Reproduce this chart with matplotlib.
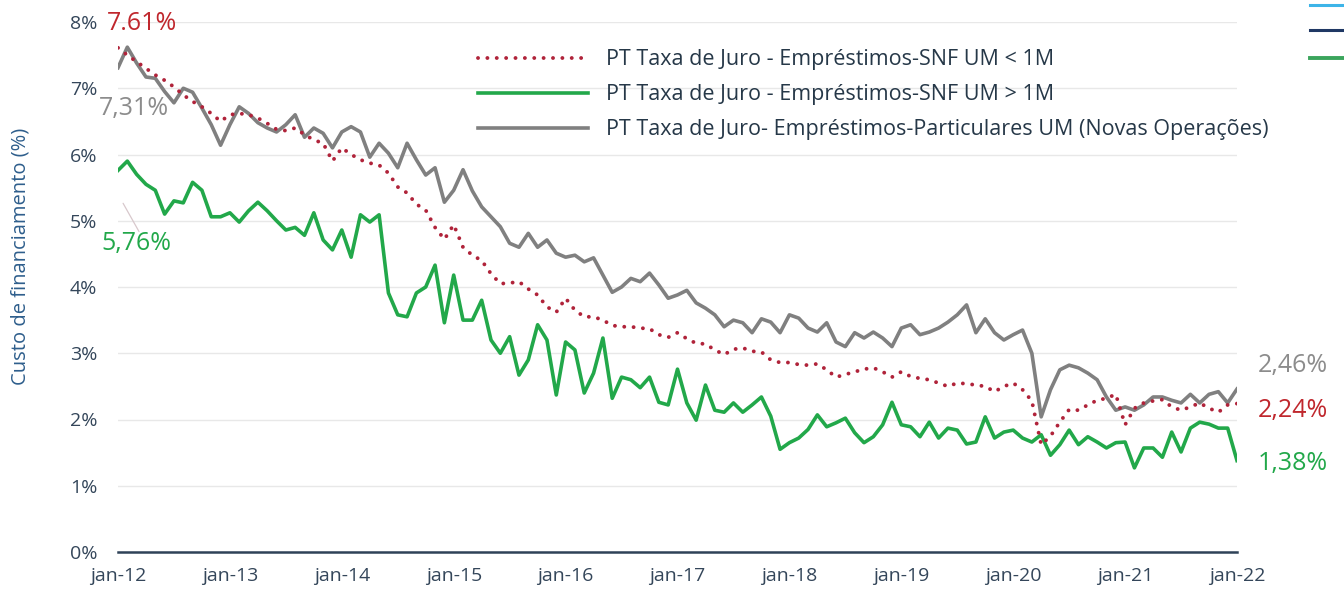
import matplotlib
matplotlib.use("Agg")
import matplotlib.pyplot as plt
from matplotlib.lines import Line2D
import numpy as np

plt.rcParams['font.family'] = ['Open Sans', 'DejaVu Sans']

# taxas mensais jan-12 .. jan-22 (%)
snf_menor_1m = [
    7.61, 7.50, 7.40, 7.30, 7.20, 7.12, 7.02, 6.90, 6.80, 6.72, 6.62, 6.50,
    6.60, 6.62, 6.60, 6.55, 6.47, 6.38, 6.36, 6.40, 6.30, 6.22, 6.17, 5.90,
    6.10, 6.00, 5.92, 5.87, 5.84, 5.72, 5.51, 5.42, 5.25, 5.16, 4.90, 4.72,
    4.94, 4.60, 4.48, 4.40, 4.20, 4.05, 4.06, 4.08, 3.97, 3.88, 3.70, 3.62,
    3.83, 3.65, 3.55, 3.55, 3.50, 3.42, 3.40, 3.40, 3.38, 3.37, 3.28, 3.24,
    3.31, 3.22, 3.15, 3.14, 3.05, 2.98, 3.06, 3.08, 3.03, 3.02, 2.90, 2.86,
    2.86, 2.83, 2.82, 2.84, 2.75, 2.64, 2.68, 2.72, 2.76, 2.78, 2.72, 2.64,
    2.72, 2.65, 2.62, 2.60, 2.55, 2.50, 2.55, 2.54, 2.52, 2.50, 2.42, 2.50,
    2.55, 2.45, 2.28, 1.62, 1.75, 1.96, 2.15, 2.14, 2.22, 2.29, 2.32, 2.38,
    1.92, 2.17, 2.25, 2.28, 2.30, 2.19, 2.14, 2.19, 2.25, 2.17, 2.11, 2.22,
    2.24]

snf_maior_1m = [
    5.76, 5.90, 5.70, 5.55, 5.46, 5.10, 5.30, 5.27, 5.58, 5.46, 5.06, 5.06,
    5.12, 4.98, 5.15, 5.28, 5.15, 5.00, 4.86, 4.90, 4.78, 5.12, 4.71, 4.56,
    4.86, 4.45, 5.09, 4.98, 5.09, 3.91, 3.58, 3.55, 3.91, 4.00, 4.33, 3.46,
    4.18, 3.50, 3.50, 3.80, 3.20, 3.00, 3.25, 2.67, 2.90, 3.43, 3.20, 2.37,
    3.17, 3.05, 2.40, 2.70, 3.23, 2.32, 2.64, 2.60, 2.48, 2.64, 2.26, 2.22,
    2.76, 2.25, 1.99, 2.52, 2.14, 2.11, 2.25, 2.11, 2.22, 2.34, 2.05, 1.55,
    1.65, 1.72, 1.85, 2.07, 1.89, 1.95, 2.02, 1.80, 1.65, 1.74, 1.92, 2.26,
    1.92, 1.89, 1.74, 1.96, 1.72, 1.87, 1.84, 1.63, 1.66, 2.04, 1.72, 1.81,
    1.84, 1.72, 1.66, 1.77, 1.46, 1.62, 1.84, 1.62, 1.74, 1.66, 1.57, 1.65,
    1.66, 1.27, 1.57, 1.57, 1.43, 1.81, 1.51, 1.87, 1.96, 1.93, 1.87, 1.87,
    1.38]

particulares = [
    7.31, 7.62, 7.38, 7.17, 7.15, 6.95, 6.78, 7.00, 6.94, 6.70, 6.45, 6.14,
    6.45, 6.72, 6.62, 6.48, 6.40, 6.34, 6.45, 6.60, 6.26, 6.40, 6.32, 6.10,
    6.34, 6.42, 6.34, 5.96, 6.17, 6.02, 5.80, 6.17, 5.92, 5.69, 5.80, 5.28,
    5.46, 5.77, 5.45, 5.21, 5.06, 4.91, 4.66, 4.60, 4.81, 4.60, 4.71, 4.51,
    4.45, 4.48, 4.38, 4.44, 4.18, 3.92, 4.00, 4.13, 4.08, 4.21, 4.03, 3.83,
    3.88, 3.95, 3.76, 3.68, 3.58, 3.40, 3.50, 3.46, 3.31, 3.52, 3.47, 3.31,
    3.58, 3.53, 3.38, 3.32, 3.46, 3.17, 3.10, 3.31, 3.23, 3.32, 3.23, 3.10,
    3.38, 3.43, 3.28, 3.32, 3.38, 3.47, 3.58, 3.73, 3.31, 3.52, 3.31, 3.20,
    3.28, 3.35, 3.00, 2.04, 2.45, 2.75, 2.82, 2.78, 2.70, 2.60, 2.34, 2.14,
    2.19, 2.14, 2.22, 2.34, 2.34, 2.29, 2.25, 2.38, 2.25, 2.38, 2.42, 2.25,
    2.46]

tick_labels = ['jan-12', 'jan-13', 'jan-14', 'jan-15', 'jan-16', 'jan-17',
               'jan-18', 'jan-19', 'jan-20', 'jan-21', 'jan-22']
y_ticks = [0, 1, 2, 3, 4, 5, 6, 7, 8]

RED = '#B0233A'
GREEN = '#22A84A'
GRAY = '#808080'
NAVY = '#2F4258'
TXT = '#34465A'

meses = np.arange(len(particulares))

fig = plt.figure(figsize=(13.44, 5.99), dpi=100)
ax = fig.add_axes([118 / 1344, 47 / 599, 1119 / 1344, 530 / 599])

ax.plot(meses, snf_menor_1m, color=RED, lw=2.8, linestyle=(0, (0.01, 2.4)),
        dash_capstyle='round', label='PT Taxa de Juro - Empréstimos-SNF UM < 1M', zorder=3)
ax.plot(meses, snf_maior_1m, color=GREEN, lw=2.6,
        label='PT Taxa de Juro - Empréstimos-SNF UM > 1M', zorder=2)
ax.plot(meses, particulares, color=GRAY, lw=2.6,
        label='PT Taxa de Juro- Empréstimos-Particulares UM (Novas Operações)', zorder=2)

ax.set_xlim(0, 120)
ax.set_ylim(0, 8)
ax.set_xticks(np.arange(0, 121, 12))
ax.set_xticklabels(tick_labels)
ax.set_yticks(y_ticks)
ax.set_yticklabels(['%d%%' % v for v in y_ticks])
ax.tick_params(axis='both', length=0, labelsize=14, colors=TXT)
ax.tick_params(axis='x', pad=11)
ax.tick_params(axis='y', pad=15)
ax.grid(axis='y', color='#E8E8E8', lw=1)
ax.set_axisbelow(True)
for s in ['top', 'right', 'left']:
    ax.spines[s].set_visible(False)
ax.spines['bottom'].set_color(NAVY)
ax.spines['bottom'].set_linewidth(1.8)

ax.set_ylabel('Custo de financiamento (%)', fontsize=14.5, color='#2E5E8C')
ax.yaxis.set_label_coords(-0.078, 0.557)

ax.legend(loc='upper left', bbox_to_anchor=(0.3044, 0.985), frameon=False,
          handlelength=5.1, handletextpad=0.84, labelspacing=0.65,
          fontsize=15.5, labelcolor='#263848')

# rotulos de valores
kw = dict(fontsize=18, clip_on=False, va='center', ha='left')
ax.text(-1.2, 7.98, '7.61%', color='#C0272D', **kw)
ax.text(-2.0, 6.70, '7,31%', color='#8C8C8C', **kw)
ax.text(-1.8, 4.66, '5,76%', color=GREEN, **kw)
ax.text(122.2, 2.81, '2,46%', color='#8C8C8C', **kw)
ax.text(122.2, 2.14, '2,24%', color='#C0272D', **kw)
ax.text(122.2, 1.34, '1,38%', color=GREEN, **kw)
ax.annotate('', xy=(0.4, 5.3), xytext=(2.4, 4.8),
            arrowprops=dict(arrowstyle='-', color='#D8C8CC', lw=0.9))

# restos de outra legenda cortada no canto
for yy, cc, ww in [(0.992, '#3DB4E8', 2.2), (0.950, '#1F3864', 2.2), (0.903, '#3BA55C', 2.8)]:
    fig.add_artist(Line2D([0.975, 1.0], [yy, yy], color=cc, lw=ww, transform=fig.transFigure))

fig.savefig('out.png', dpi=100, facecolor='white')
